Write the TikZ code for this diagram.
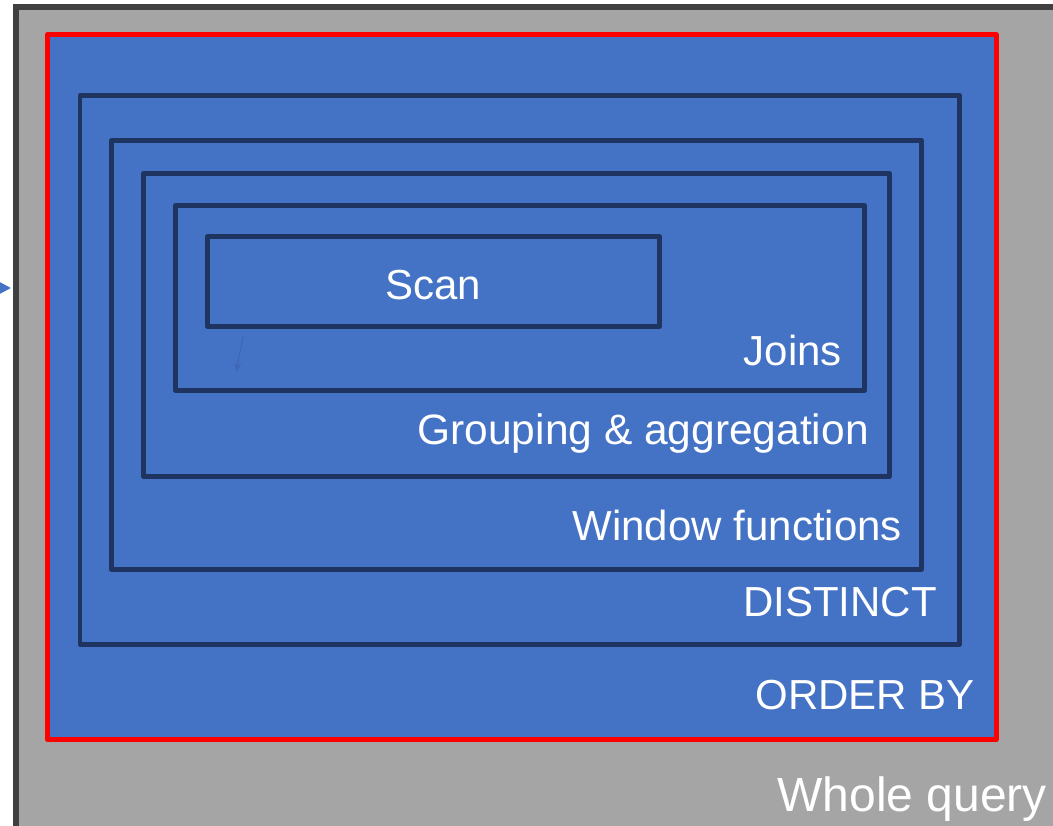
\documentclass[tikz,border=0pt]{standalone}
\usepackage{fontspec}
\setmainfont{Liberation Sans}
\usetikzlibrary{arrows.meta}
\definecolor{qgray}{HTML}{A5A5A5}
\definecolor{qedge}{HTML}{404040}
\definecolor{qblue}{HTML}{4472C4}
\definecolor{qnavy}{HTML}{1F3461}
\definecolor{qred}{HTML}{FF0000}
\definecolor{qfaint}{HTML}{3E68B6}
\tikzset{
  stage/.style={draw=qnavy, line width=4.5pt, line join=round},
  label/.style={text=white, anchor=base east, inner sep=0pt, font=\fontsize{42}{50}\selectfont},
  biglabel/.style={label, font=\fontsize{48}{56}\selectfont},
}
\begin{document}
\begin{tikzpicture}[x=1pt, y=-1pt]
  \useasboundingbox (0,0) rectangle (1053,826);
  \clip (0,0) rectangle (1053,826);
  % outer query frame (runs past the page edge)
  \draw[fill=qgray, draw=qedge, line width=6pt] (16,7) rectangle (1080,860);
  % ORDER BY frame
  \draw[fill=qblue, draw=qred, line width=5pt, line join=round] (47.5,34.5) rectangle (996,739.5);
  % nested stages
  \draw[stage] (80,95.5) rectangle (959.5,644.5);
  \draw[stage] (111.5,140.5) rectangle (921.5,569.5);
  \draw[stage] (143.5,173.5) rectangle (889.5,476.5);
  \draw[stage] (175.5,205.5) rectangle (864.5,390.5);
  \draw[stage] (207.5,236.5) rectangle (659.5,326.5);
  % labels
  \node[label, anchor=base] (scan) at (433,300) {Scan};
  \node[label] (joins) at (842,366) {Joins};
  \node[label, font=\fontsize{42.5}{50}\selectfont] (group) at (869,444) {Grouping \& aggregation};
  \node[label] (window) at (902,540) {Window functions};
  \node[label] (distinct) at (937,616) {DISTINCT};
  \node[label] (orderby) at (975,709) {ORDER BY};
  \node[biglabel] (whole) at (1047,811) {Whole query};
  % incoming arrow on the left edge
  \coordinate (inA) at (-30,288);
  \coordinate (inB) at (11,288);
  \draw[qblue, line width=2pt, -{Triangle[length=11pt, width=11pt]}] (inA) -- (inB);
  % faint arrow below the scan box
  \coordinate (fA) at (243,337);
  \coordinate (fB) at (236,372);
  \draw[qfaint, line width=1.2pt, -{Stealth[length=9pt, width=7pt]}] (fA) -- (fB);
\end{tikzpicture}
\end{document}
